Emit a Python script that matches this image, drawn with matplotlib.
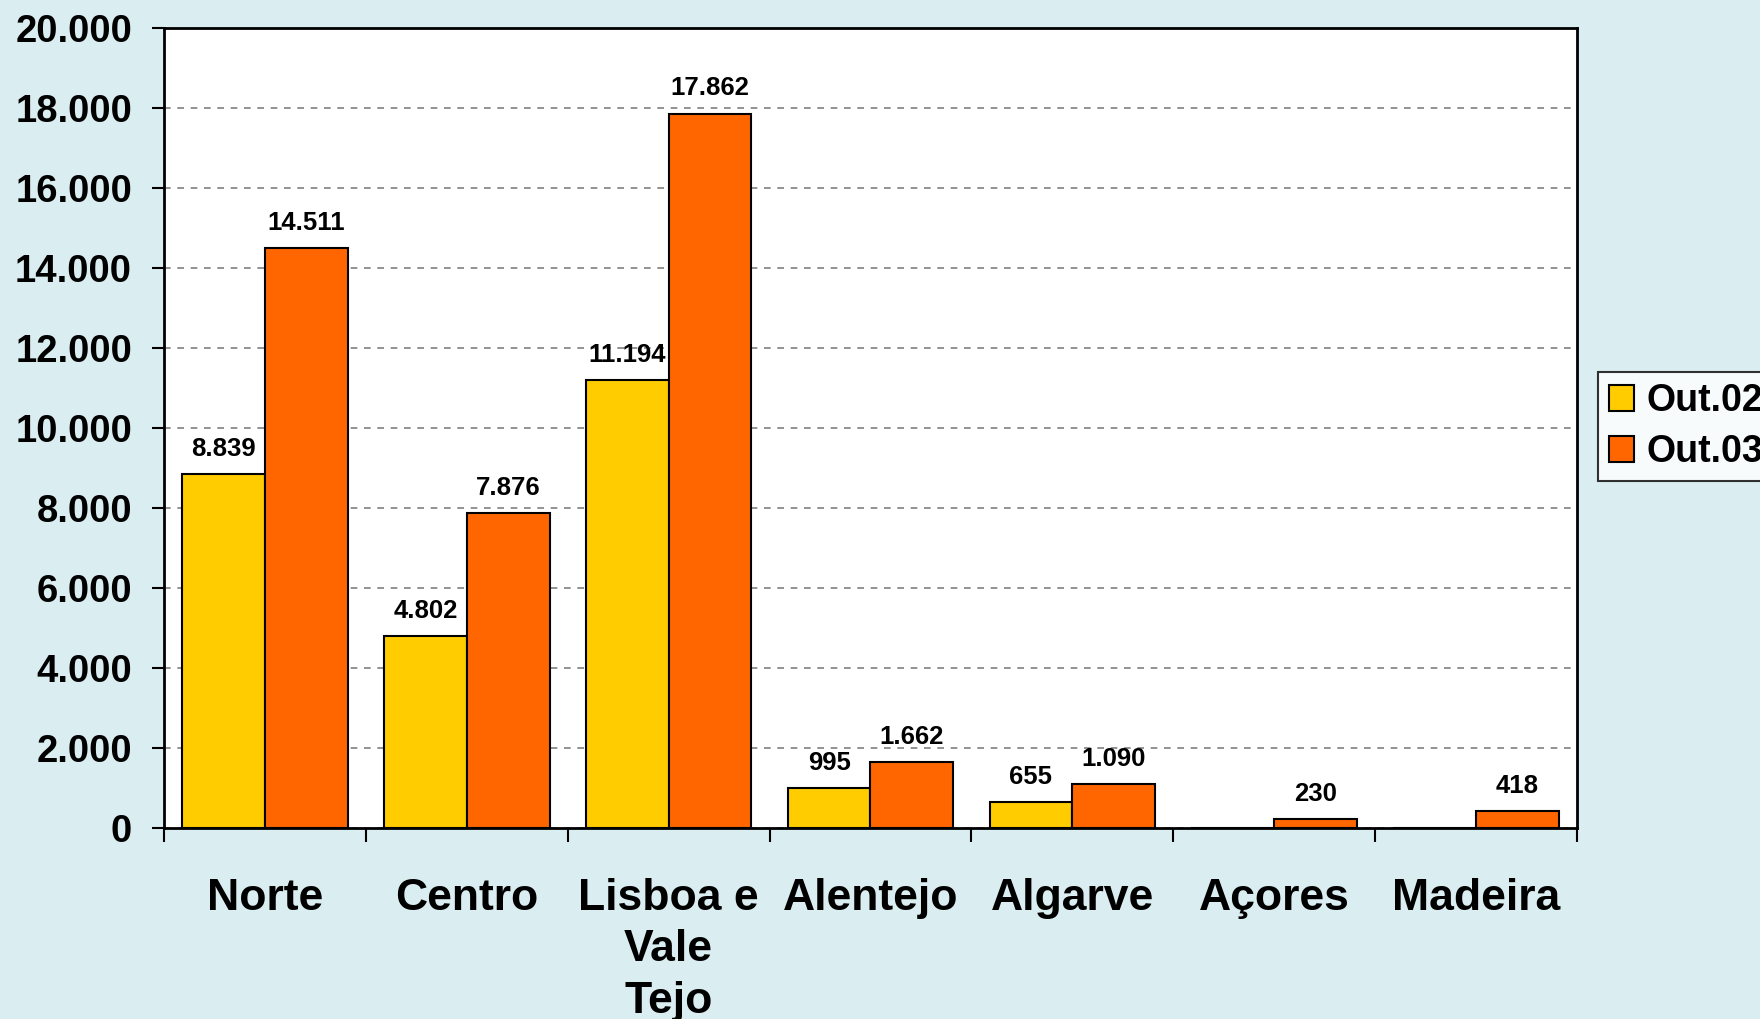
import numpy as np
import matplotlib.pyplot as plt
from matplotlib.ticker import FuncFormatter

# regions and monthly values
regions = ["Norte", "Centro", "Lisboa e\nVale\nTejo", "Alentejo", "Algarve", "Açores", "Madeira"]
out02 = [8839, 4802, 11194, 995, 655, 0, 0]
out03 = [14511, 7876, 17862, 1662, 1090, 230, 418]
series_names = ["Out.02", "Out.03"]
yticks = np.arange(0, 20001, 2000)

plt.rcParams['font.family'] = ['Liberation Sans', 'DejaVu Sans']
plt.rcParams['font.weight'] = 'bold'

fig = plt.figure(figsize=(17.6, 10.19), dpi=100, facecolor='#DAEDF0')
ax = fig.add_axes([0.0932, 0.1874, 0.8028, 0.7851])
ax.set_facecolor('white')

x = np.arange(len(regions))
w = 0.41
b1 = ax.bar(x - w / 2, out02, w, color='#FFCC00', edgecolor='black', linewidth=1.5, label=series_names[0], zorder=3)
b2 = ax.bar(x + w / 2, out03, w, color='#FF6600', edgecolor='black', linewidth=1.5, label=series_names[1], zorder=3)

def fmt(v):
    return f"{int(v):,}".replace(",", ".")

for bars, vals in ((b1, out02), (b2, out03)):
    for rect, v in zip(bars, vals):
        if v == 0:
            continue
        ax.annotate(fmt(v), (rect.get_x() + rect.get_width() / 2, v),
                    xytext=(0, 13), textcoords='offset points',
                    ha='center', va='baseline', fontsize=18.5, fontweight='bold')

ax.set_xlim(-0.5, len(regions) - 0.5)
ax.set_ylim(0, 20000)
ax.set_yticks(yticks)
ax.yaxis.set_major_formatter(FuncFormatter(lambda v, p: fmt(v)))
ax.tick_params(axis='y', labelsize=27.5, length=9, width=1.5, pad=14)

ax.set_xticks(x)
ax.set_xticklabels(regions, fontsize=32, linespacing=1.32)
ax.set_xticks(np.arange(-0.5, len(regions), 1), minor=True)
ax.tick_params(axis='x', which='major', length=0, pad=36)
ax.tick_params(axis='x', which='minor', length=10, width=1.5)

ax.yaxis.grid(True, linestyle=(0, (4, 4)), color='#808080', linewidth=1.2, zorder=0)
for s in ax.spines.values():
    s.set_linewidth(2)
    s.set_color('black')

# legend runs off the right edge, as in the original
leg = ax.legend(loc='upper left', bbox_to_anchor=(0.908, 0.635), bbox_transform=fig.transFigure,
                fontsize=27, frameon=True, fancybox=False, edgecolor='black',
                handlelength=0.65, handleheight=0.65, handletextpad=0.35,
                borderpad=0.3, labelspacing=0.4, borderaxespad=0)
leg.get_frame().set_linewidth(1.5)
for t in leg.get_texts():
    t.set_fontweight('bold')

fig.savefig('out.png', dpi=100, facecolor=fig.get_facecolor())
